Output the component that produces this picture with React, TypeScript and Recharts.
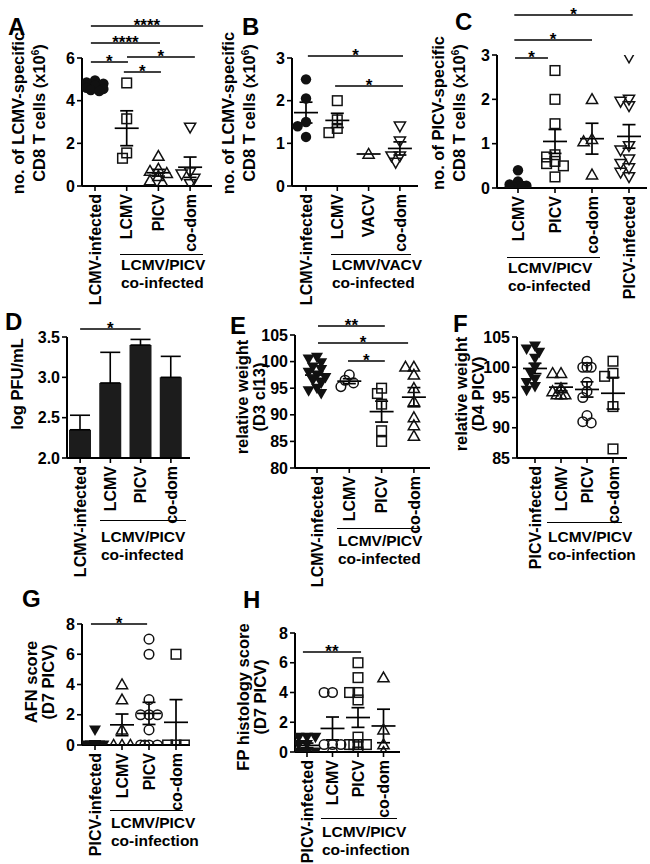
import React from 'react';
import { ComposedChart, Scatter, XAxis, YAxis, ReferenceLine, BarChart, Bar, ErrorBar } from 'recharts';

const FONT = '"Liberation Sans", Arial, Helvetica, sans-serif';

// ---------- Panel A ----------
const catsA = ['LCMV-infected', 'LCMV', 'PICV', 'co-dom'];
const aLcmvInf = [4.95, 4.85, 4.8, 4.7, 4.6, 4.55, 4.5, 4.45];
const aLcmv = [4.83, 3.15, 1.55, 1.3];
const aPicv = [1.4, 0.8, 0.7, 0.6, 0.45, 0.25, 0.15];
const aCodom = [2.75, 0.65, 0.55, 0.35, 0.1];
const ticksA = [0, 2, 4, 6];

// ---------- Panel B ----------
const catsB = ['LCMV-infected', 'LCMV', 'VACV', 'co-dom'];
const bLcmvInf = [2.5, 2.05, 1.5, 1.4, 1.15];
const bLcmv = [2.0, 1.55, 1.35, 1.25];
const bVacv = [0.75];
const bCodom = [1.4, 1.05, 0.7, 0.55, 0.7];
const ticksB = [0, 1, 2, 3];

// ---------- Panel C ----------
const catsC = ['LCMV', 'PICV', 'co-dom', 'PICV-infected'];
const cLcmv = [0.4, 0.15, 0.08, 0.05, 0.03, 0.02, 0.01, 0.0];
const cPicv = [2.65, 2.0, 1.45, 0.75, 0.7, 0.6, 0.55, 0.5, 0.25];
const cCodom = [2.0, 1.1, 1.05, 0.3];
const cPicvInf = [2.95, 2.0, 1.95, 1.85, 0.95, 0.85, 0.65, 0.55, 0.45, 0.35, 0.25];
const ticksC = [0, 1, 2, 3];

// ---------- Panel D ----------
const catsD = ['LCMV-infected', 'LCMV', 'PICV', 'co-dom'];
const dMean = [2.35, 2.93, 3.4, 3.0];
const dSem = [0.18, 0.38, 0.07, 0.26];
const ticksD = [2.0, 2.5, 3.0, 3.5];

// ---------- Panel E ----------
const catsE = ['LCMV-infected', 'LCMV', 'PICV', 'co-dom'];
const eLcmvInf = [100.8, 100.5, 99.8, 99, 98.5, 98, 97.5, 97, 96.5, 96, 95, 94.5, 94];
const eLcmv = [97.5, 96.5, 96, 95.3];
const ePicv = [95, 94, 92, 87, 85];
const eCodom = [99, 99, 97.5, 95, 92.5, 89.5, 88, 86];
const ticksE = [80, 85, 90, 95, 100, 105];

// ---------- Panel F ----------
const catsF = ['PICV-infected', 'LCMV', 'PICV', 'co-dom'];
const fPicvInf = [103.5, 103, 102.5, 101.5, 100, 99, 98, 97.5, 96.8, 96.2];
const fLcmv = [99, 99, 96.5, 96, 95.5, 95.5, 95.5];
const fPicv = [101, 100, 100, 100, 97.5, 96, 95, 92, 91, 90.8];
const fCodom = [101, 99, 98.5, 93.5, 86.5];
const ticksF = [85, 90, 95, 100, 105];

// ---------- Panel G ----------
const catsG = ['PICV-infected', 'LCMV', 'PICV', 'co-dom'];
const gPicvInf = [1, 0, 0, 0, 0, 0, 0, 0, 0, 0];
const gLcmv = [4, 3, 1, 0, 0, 0];
const gPicv = [7, 6, 3, 2, 2, 2, 1, 0, 0, 0, 0];
const gCodom = [6, 0, 0, 0];
const ticksG = [0, 2, 4, 6, 8];

// ---------- Panel H ----------
const catsH = ['PICV-infected', 'LCMV', 'PICV', 'co-dom'];
const hPicvInf = [1, 1, 1, 0.5, 0.5, 0, 0, 0, 0];
const hLcmv = [4, 4, 0.5, 0.5, 0.5, 0];
const hPicv = [6, 5, 4, 4, 3.5, 1, 0.5, 0.5, 0.5, 0.5, 0];
const hCodom = [5, 1.5, 0.5, 0];
const ticksH = [0, 2, 4, 6, 8];

type Mk = 'fc' | 'oc' | 'os' | 'ot' | 'oi' | 'fi';
interface SigBar { a: number; b: number; y: number; t: string }
interface PanelCfg {
  cats: string[];
  groups: number[][];
  marks: Mk[];
  axisX: number; right: number; yTop: number; yBottom: number;
  c0: number; sp: number;
  yMin: number; yMax: number; ticks: number[];
  sig: SigBar[];
}

const mean = (a: number[]) => a.reduce((s, v) => s + v, 0) / a.length;
const sem = (a: number[]) => {
  if (a.length < 2) return 0;
  const m = mean(a);
  return Math.sqrt(a.reduce((s, v) => s + (v - m) ** 2, 0) / (a.length - 1)) / Math.sqrt(a.length);
};

// deterministic beeswarm offsets (in category units)
function swarm(vals: number[], ppu: number, sp: number): number[] {
  const order = vals.map((_, i) => i).sort((i, j) => vals[j] - vals[i]);
  const placed: { x: number; y: number }[] = [];
  const out = new Array(vals.length).fill(0);
  const step = 4.2;
  const cands = [0, -1, 1, -2, 2];
  for (const i of order) {
    const y = vals[i] * ppu;
    let best = 0, bestD = -1, done = false;
    for (const c of cands) {
      const x = c * step;
      const d = placed.length ? Math.min(...placed.map(p => Math.hypot(p.x - x, p.y - y))) : 999;
      if (d >= 6.5) { placed.push({ x, y }); out[i] = x / sp; done = true; break; }
      if (d > bestD) { bestD = d; best = x; }
    }
    if (!done) { placed.push({ x: best, y }); out[i] = best / sp; }
  }
  return out;
}

const marker = (m: Mk) => (props: any) => {
  const { cx, cy } = props;
  if (cx == null || cy == null) return <g />;
  const k = '#111';
  switch (m) {
    case 'fc': return <circle cx={cx} cy={cy} r={5.2} fill={k} />;
    case 'oc': return <circle cx={cx} cy={cy} r={4.8} fill="none" stroke={k} strokeWidth={1.5} />;
    case 'os': return <rect x={cx - 4.8} y={cy - 4.8} width={9.6} height={9.6} fill="none" stroke={k} strokeWidth={1.5} />;
    case 'ot': return <polygon points={`${cx},${cy - 5.6} ${cx + 5.6},${cy + 4.2} ${cx - 5.6},${cy + 4.2}`} fill="none" stroke={k} strokeWidth={1.5} />;
    case 'oi': return <polygon points={`${cx},${cy + 5.6} ${cx + 5.6},${cy - 4.2} ${cx - 5.6},${cy - 4.2}`} fill="none" stroke={k} strokeWidth={1.5} />;
    case 'fi': return <polygon points={`${cx},${cy + 6} ${cx + 6},${cy - 4.5} ${cx - 6},${cy - 4.5}`} fill={k} />;
  }
  return <g />;
};

const catTick = (labels: string[]) => (props: any) => {
  const { x, y, payload } = props;
  const v = payload.value;
  const lab = typeof v === 'number' ? labels[Math.round(v)] : v;
  return (
    <text x={x} y={y} transform={`rotate(-90, ${x}, ${y})`} textAnchor="end" dy="0.36em"
      fontFamily={FONT} fontSize={16} fontWeight={700} fill="#000">{lab}</text>
  );
};

const yTickStyle = { fill: '#000', fontSize: 16, fontWeight: 700, fontFamily: FONT };
const axisStyle = { stroke: '#000', strokeWidth: 2 };
const tickLineStyle = { stroke: '#000', strokeWidth: 1.6 };
const sigLabel = (t: string) => ({ value: t, position: 'top' as const, offset: -5, fill: '#000', fontSize: 17, fontWeight: 700, fontFamily: FONT });

function ScatterPanel({ p }: { p: PanelCfg }) {
  const ppu = (p.yBottom - p.yTop) / (p.yMax - p.yMin);
  const xLo = (p.axisX - p.c0) / p.sp;
  const xHi = (p.right - p.c0) / p.sp;
  const series = p.groups.map((vals, gi) => {
    const off = swarm(vals, ppu, p.sp);
    return vals.map((v, i) => ({ x: gi + off[i], y: v }));
  });
  const hw = 12 / p.sp, cw = 6.5 / p.sp;
  const segs: { x1: number; y1: number; x2: number; y2: number }[] = [];
  p.groups.forEach((vals, gi) => {
    const m = mean(vals), s = sem(vals);
    segs.push({ x1: gi - hw, y1: m, x2: gi + hw, y2: m });
    if (s > 0) {
      segs.push({ x1: gi, y1: m - s, x2: gi, y2: m + s });
      segs.push({ x1: gi - cw, y1: m + s, x2: gi + cw, y2: m + s });
      segs.push({ x1: gi - cw, y1: m - s, x2: gi + cw, y2: m - s });
    }
  });
  return (
    <div style={{ position: 'absolute', left: 0, top: 0 }}>
      <ComposedChart width={650} height={864}
        margin={{ top: p.yTop, left: p.axisX - 40, right: 650 - p.right, bottom: 864 - p.yBottom - 60 }}>
        <XAxis type="number" dataKey="x" domain={[xLo, xHi]} allowDataOverflow ticks={p.cats.map((_, i) => i)}
          interval={0} height={60} tick={catTick(p.cats)} tickSize={5} tickMargin={3}
          axisLine={axisStyle} tickLine={tickLineStyle} />
        <YAxis type="number" dataKey="y" domain={[p.yMin, p.yMax]} allowDataOverflow ticks={p.ticks}
          interval={0} width={40} tick={yTickStyle} tickSize={5} tickMargin={2}
          axisLine={axisStyle} tickLine={tickLineStyle} />
        {series.map((d, gi) => (
          <Scatter key={gi} data={d} shape={marker(p.marks[gi])} isAnimationActive={false} />
        ))}
        {segs.map((l, i) => (
          <ReferenceLine key={'m' + i} segment={[{ x: l.x1, y: l.y1 }, { x: l.x2, y: l.y2 }]}
            stroke="#000" strokeWidth={1.7} ifOverflow="visible" />
        ))}
        {p.sig.map((s, i) => {
          const y = p.yMax + (p.yTop - s.y) / ppu;
          return (
            <ReferenceLine key={'s' + i} segment={[{ x: s.a, y }, { x: s.b, y }]}
              stroke="#000" strokeWidth={1.7} ifOverflow="visible" label={sigLabel(s.t)} />
          );
        })}
      </ComposedChart>
    </div>
  );
}

function BarPanel() {
  const data = catsD.map((c, i) => ({ name: c, v: dMean[i], err: [0, dSem[i]] }));
  const yTop = 337, yBottom = 458, axisX = 67, right = 190;
  const ppu = (yBottom - yTop) / 1.5;
  const ySig = 3.5 + (yTop - 329) / ppu;
  return (
    <div style={{ position: 'absolute', left: 0, top: 0 }}>
      <BarChart width={650} height={864} data={data}
        margin={{ top: yTop, left: axisX - 40, right: 650 - right, bottom: 864 - yBottom - 60 }}>
        <XAxis dataKey="name" type="category" interval={0} height={60} tick={catTick(catsD)}
          tickSize={5} tickMargin={3} axisLine={axisStyle} tickLine={tickLineStyle} padding={{ left: -2, right: 4 }} />
        <YAxis type="number" domain={[2, 3.5]} allowDataOverflow ticks={ticksD} interval={0} width={40}
          tickFormatter={(v: number) => v.toFixed(1)} tick={yTickStyle} tickSize={5} tickMargin={2}
          axisLine={axisStyle} tickLine={tickLineStyle} />
        <Bar dataKey="v" fill="#1c1c1c" barSize={22} isAnimationActive={false}>
          <ErrorBar dataKey="err" width={10} stroke="#000" strokeWidth={1.6} direction="y" />
        </Bar>
        <ReferenceLine segment={[{ x: 'LCMV-infected', y: ySig }, { x: 'PICV', y: ySig }]}
          stroke="#000" strokeWidth={1.7} ifOverflow="visible" label={sigLabel('*')} />
      </BarChart>
    </div>
  );
}

const panels: PanelCfg[] = [
  {
    cats: catsA, groups: [aLcmvInf, aLcmv, aPicv, aCodom], marks: ['fc', 'os', 'ot', 'oi'],
    axisX: 82, right: 212, yTop: 58, yBottom: 186, c0: 95, sp: 31.7, yMin: 0, yMax: 6, ticks: ticksA,
    sig: [
      { a: -0.13, b: 3.41, y: 26, t: '****' },
      { a: -0.13, b: 2.05, y: 43, t: '****' },
      { a: -0.13, b: 1.04, y: 62, t: '*' },
      { a: 1.01, b: 3.15, y: 57, t: '*' },
      { a: 0.91, b: 2.08, y: 72, t: '*' },
    ],
  },
  {
    cats: catsB, groups: [bLcmvInf, bLcmv, bVacv, bCodom], marks: ['fc', 'os', 'ot', 'oi'],
    axisX: 292, right: 418, yTop: 58, yBottom: 186, c0: 306, sp: 31.3, yMin: 0, yMax: 3, ticks: ticksB,
    sig: [
      { a: 0.06, b: 3.1, y: 56, t: '*' },
      { a: 0.93, b: 3.1, y: 86, t: '*' },
    ],
  },
  {
    cats: catsC, groups: [cLcmv, cPicv, cCodom, cPicvInf], marks: ['fc', 'os', 'ot', 'oi'],
    axisX: 497, right: 647, yTop: 55, yBottom: 188, c0: 518, sp: 37, yMin: 0, yMax: 3, ticks: ticksC,
    sig: [
      { a: -0.1, b: 3.1, y: 15, t: '*' },
      { a: -0.1, b: 2.0, y: 40, t: '*' },
      { a: -0.08, b: 0.81, y: 58, t: '*' },
    ],
  },
  {
    cats: catsE, groups: [eLcmvInf, eLcmv, ePicv, eCodom], marks: ['fi', 'oc', 'os', 'ot'],
    axisX: 295, right: 430, yTop: 335, yBottom: 468, c0: 317, sp: 32.3, yMin: 80, yMax: 105, ticks: ticksE,
    sig: [
      { a: 0.03, b: 2.1, y: 326, t: '**' },
      { a: 0.03, b: 2.82, y: 343, t: '*' },
      { a: 0.96, b: 2.1, y: 361, t: '*' },
    ],
  },
  {
    cats: catsF, groups: [fPicvInf, fLcmv, fPicv, fCodom], marks: ['fi', 'ot', 'oc', 'os'],
    axisX: 517, right: 627, yTop: 337, yBottom: 458, c0: 535, sp: 26, yMin: 85, yMax: 105, ticks: ticksF,
    sig: [],
  },
  {
    cats: catsG, groups: [gPicvInf, gLcmv, gPicv, gCodom], marks: ['fi', 'ot', 'oc', 'os'],
    axisX: 82, right: 190, yTop: 624, yBottom: 745, c0: 95, sp: 27, yMin: 0, yMax: 8, ticks: ticksG,
    sig: [{ a: -0.15, b: 1.93, y: 624, t: '*' }],
  },
  {
    cats: catsH, groups: [hPicvInf, hLcmv, hPicv, hCodom], marks: ['fi', 'oc', 'os', 'ot'],
    axisX: 295, right: 400, yTop: 633, yBottom: 752, c0: 307, sp: 25.5, yMin: 0, yMax: 8, ticks: ticksH,
    sig: [{ a: -0.16, b: 2.12, y: 652, t: '**' }],
  },
];

const letters = [
  { t: 'A', x: 8, y: 15 }, { t: 'B', x: 242, y: 15 }, { t: 'C', x: 455, y: 10 },
  { t: 'D', x: 5, y: 310 }, { t: 'E', x: 230, y: 314 }, { t: 'F', x: 453, y: 312 },
  { t: 'G', x: 22, y: 587 }, { t: 'H', x: 243, y: 588 },
];

const yLabels: { l1: React.ReactNode; l2?: React.ReactNode; x: number; y: number }[] = [
  { l1: 'no. of LCMV-specific', l2: <>CD8 T cells (x10<sup style={{ fontSize: 10 }}>6</sup>)</>, x: 28.5, y: 113 },
  { l1: 'no. of LCMV-specific', l2: <>CD8 T cells (x10<sup style={{ fontSize: 10 }}>6</sup>)</>, x: 238.5, y: 113 },
  { l1: 'no. of PICV-specific', l2: <>CD8 T cells (x10<sup style={{ fontSize: 10 }}>6</sup>)</>, x: 448.5, y: 113 },
  { l1: 'log PFU/mL', x: 17, y: 384 },
  { l1: 'relative weight', l2: '(D3 cl13)', x: 250.5, y: 397 },
  { l1: 'relative weight', l2: '(D4 PICV)', x: 470, y: 394 },
  { l1: 'AFN score', l2: '(D7 PICV)', x: 39.5, y: 682 },
  { l1: 'FP histology score', l2: '(D7 PICV)', x: 251.5, y: 697 },
];

const groups = [
  { x1: 120, x2: 203, y: 255, off: 10, l1: 'LCMV/PICV', l2: 'co-infected' },
  { x1: 331, x2: 411, y: 255, off: 10, l1: 'LCMV/VACV', l2: 'co-infected' },
  { x1: 507, x2: 600, y: 258, off: 10, l1: 'LCMV/PICV', l2: 'co-infected' },
  { x1: 100, x2: 186, y: 521, off: 16, l1: 'LCMV/PICV', l2: 'co-infected' },
  { x1: 337, x2: 420, y: 529, off: 12, l1: 'LCMV/PICV', l2: 'co-infected' },
  { x1: 547, x2: 622, y: 523, off: 14, l1: 'LCMV/PICV', l2: 'co-infection' },
  { x1: 110, x2: 183, y: 811, off: 12, l1: 'LCMV/PICV', l2: 'co-infection' },
  { x1: 321, x2: 397, y: 819, off: 13, l1: 'LCMV/PICV', l2: 'co-infection' },
];

export default function App() {
  return (
    <div style={{ position: 'absolute', left: 0, top: 0, width: 650, height: 864, background: '#fff', overflow: 'hidden', fontFamily: FONT }}>
      {panels.slice(0, 3).map((p, i) => <ScatterPanel key={i} p={p} />)}
      <BarPanel />
      {panels.slice(3).map((p, i) => <ScatterPanel key={'b' + i} p={p} />)}
      {letters.map((l, i) => (
        <div key={'L' + i} style={{ position: 'absolute', left: l.x, top: l.y, fontSize: 24, lineHeight: '24px', fontWeight: 700 }}>{l.t}</div>
      ))}
      {yLabels.map((l, i) => (
        <div key={'Y' + i} style={{
          position: 'absolute', left: l.x, top: l.y, transform: 'translate(-50%, -50%) rotate(-90deg)',
          whiteSpace: 'nowrap', textAlign: 'center', fontSize: 16.5, lineHeight: '17px', fontWeight: 700,
        }}>
          <div>{l.l1}</div>
          {l.l2 ? <div>{l.l2}</div> : null}
        </div>
      ))}
      {groups.map((g, i) => (
        <React.Fragment key={'G' + i}>
          <div style={{ position: 'absolute', left: g.x1, top: g.y - 1, width: g.x2 - g.x1, height: 0, borderTop: '1.6px solid #000' }} />
          <div style={{
            position: 'absolute', left: g.x1 + 1, top: g.y + g.off - 9,
            whiteSpace: 'nowrap', textAlign: 'left', fontSize: 15.5, lineHeight: '18px', fontWeight: 700,
          }}>
            <div>{g.l1}</div>
            <div>{g.l2}</div>
          </div>
        </React.Fragment>
      ))}
    </div>
  );
}
